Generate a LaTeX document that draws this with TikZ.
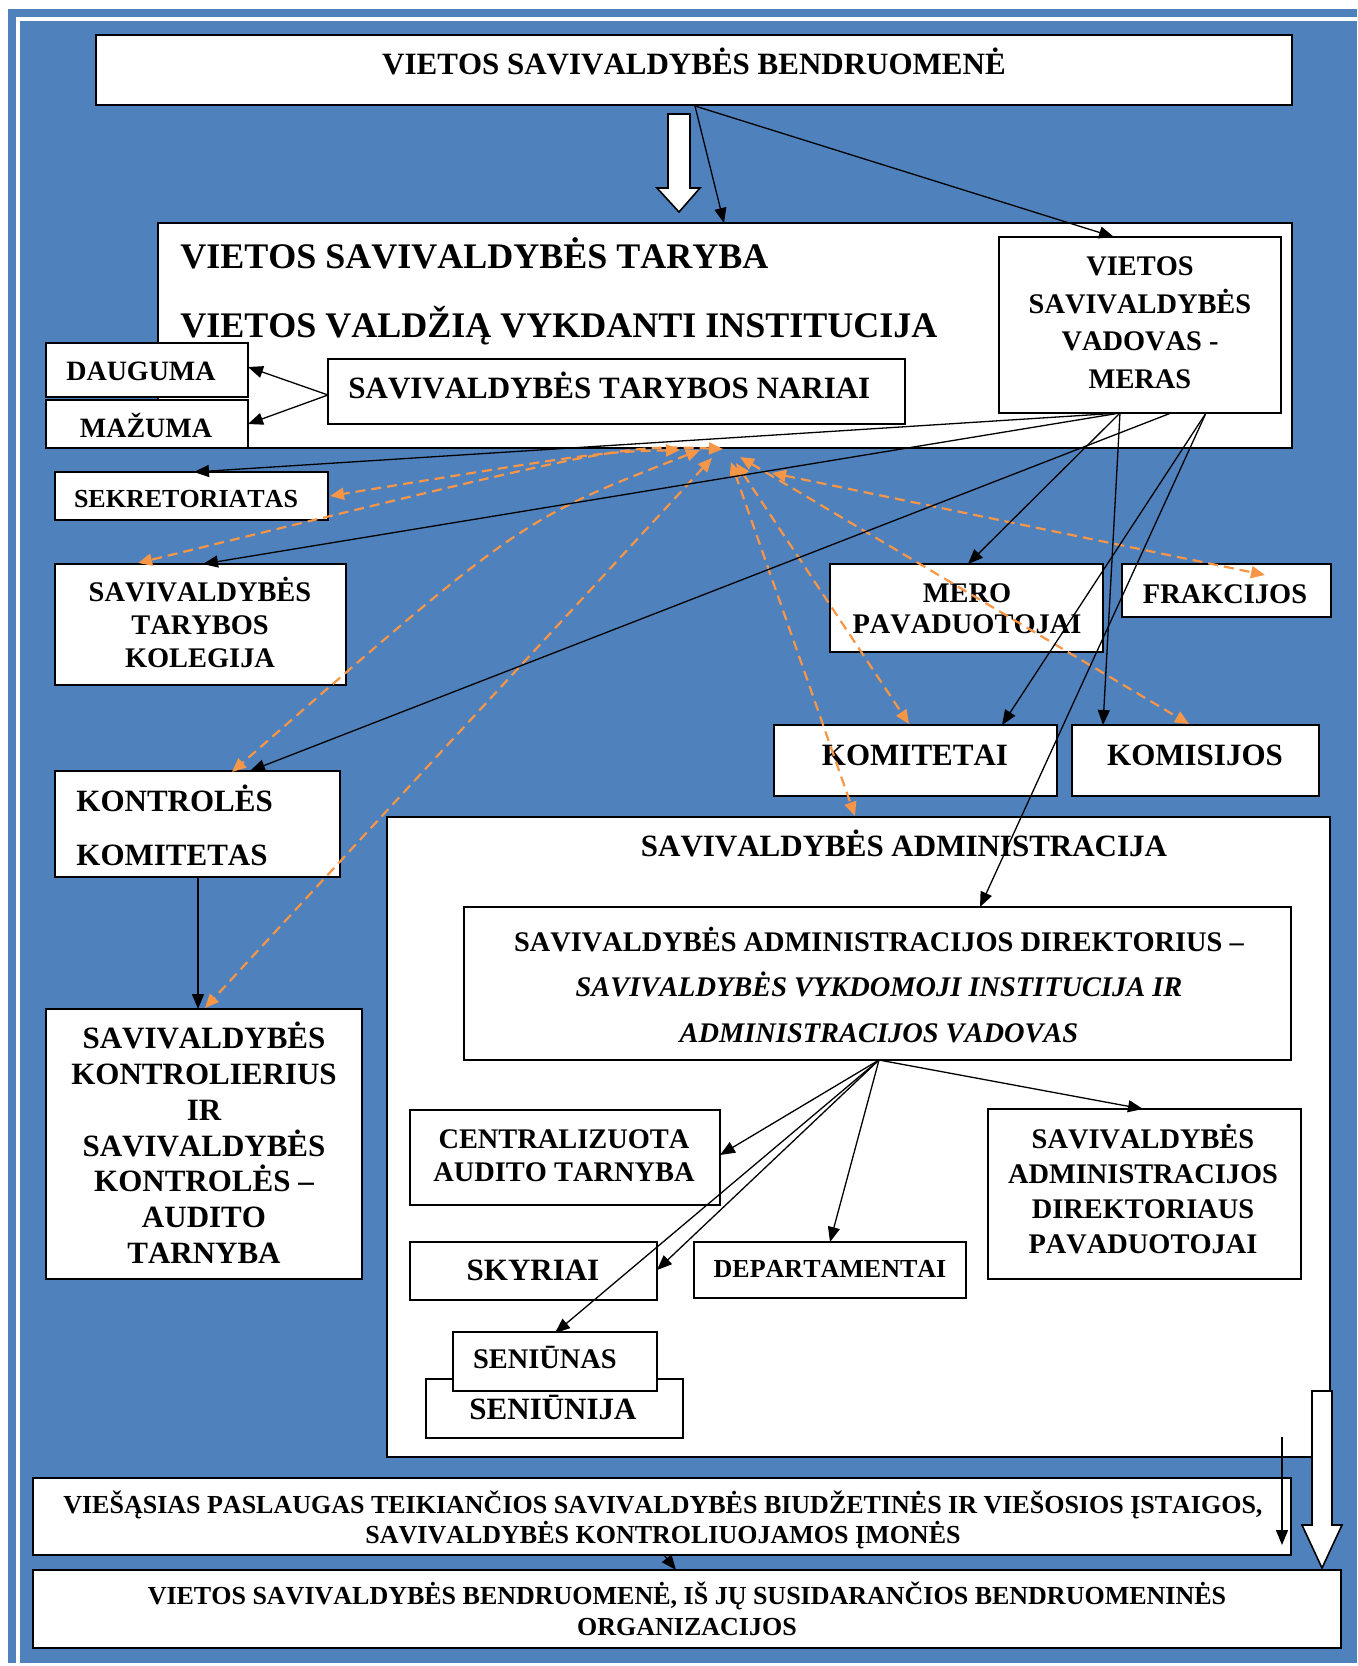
\documentclass[tikz,border=0pt]{standalone}
\usepackage{fontspec}
\setmainfont[Kerning=Off]{Liberation Serif}
\usetikzlibrary{arrows.meta,fit}
\definecolor{bgblue}{HTML}{4F81BD}
\definecolor{orng}{HTML}{F79646}
\tikzset{
  boxst/.style={draw=black, line width=0.9pt, fill=white, inner sep=0pt},
  tL/.style={font=\bfseries\fontsize{18pt}{21pt}\selectfont, inner sep=0pt, anchor=base west},
  tM/.style={font=\bfseries\fontsize{15.5pt}{18pt}\selectfont, inner sep=0pt, anchor=base},
  tS/.style={font=\bfseries\fontsize{14.2pt}{17pt}\selectfont, inner sep=0pt, anchor=base},
  tX/.style={font=\bfseries\fontsize{13pt}{15pt}\selectfont, inner sep=0pt, anchor=base},
  conn/.style={line width=0.65pt, -{Triangle[length=7.5pt,width=6pt]}},
  oconn/.style={draw=orng, line width=1.1pt, dash pattern=on 5pt off 3pt, {Triangle[length=7pt,width=6pt]}-{Triangle[length=7pt,width=6pt]}},
  blockarrow/.style={draw=black, line width=0.8pt, fill=white, line join=miter},
}
\begin{document}
\begin{tikzpicture}[x=0.5pt,y=-0.5pt]
\useasboundingbox (0,0) rectangle (1357,1666);
\fill[white] (0,0) rectangle (1357,1666);
\fill[bgblue] (8,9) rectangle (1357,1663);
\draw[white, line width=2pt] (17.8,1663) -- (17.8,19) -- (1357,19);

% ---------- boxes ----------
\node[boxst, fit={(96,35) (1292,105)}] (top) {};
\node[boxst, fit={(158,223) (1292,448)}] (taryba) {};
\node[boxst, fit={(999,237) (1281,413)}] (meras) {};
\node[boxst, fit={(328,359) (905,424)}] (nariai) {};
\node[boxst, fit={(46,343) (248,397)}] (dauguma) {};
\node[boxst, fit={(46,400) (248,448)}] (mazuma) {};
\node[boxst, fit={(55,472) (328,520)}] (sekr) {};
\node[boxst, fit={(55,564) (346,685)}] (kolegija) {};
\node[boxst, fit={(55,771) (340,877)}] (kkom) {};
\node[boxst, fit={(46,1009) (362,1279)}] (kontr) {};
\node[boxst, fit={(830,564) (1103,652)}] (merop) {};
\node[boxst, fit={(1122,564) (1331,617)}] (frakc) {};
\node[boxst, fit={(774,725) (1057,796)}] (komitetai) {};
\node[boxst, fit={(1072,725) (1319,796)}] (komisijos) {};
\node[boxst, fit={(387,817) (1330,1457)}] (admin) {};
\node[boxst, fit={(464,907) (1291,1060)}] (direkt) {};
\node[boxst, fit={(410,1110) (720,1205)}] (central) {};
\node[boxst, fit={(410,1242) (657,1300)}] (skyriai) {};
\node[boxst, fit={(426,1379) (683,1438)}] (seniunija) {};
\node[boxst, fit={(453,1332) (657,1391)}] (seniunas) {};
\node[boxst, fit={(694,1242) (966,1298)}] (depart) {};
\node[boxst, fit={(988,1109) (1301,1279)}] (adpav) {};
\node[boxst, fit={(33,1478) (1291,1555)}] (viesos) {};
\node[boxst, fit={(33,1570) (1341,1648)}] (bendr) {};

% ---------- texts ----------
\node[tM] (t1) at (694,74) {VIETOS SAVIVALDYBĖS BENDRUOMENĖ};
\node[tL] (t2) at (180,268) {VIETOS SAVIVALDYBĖS TARYBA};
\node[tL] (t3) at (180,337) {VIETOS VALDŽIĄ VYKDANTI INSTITUCIJA};
\node[tS] (t4) at (1140,275) {VIETOS};
\node[tS] (t5) at (1140,313) {SAVIVALDYBĖS};
\node[tS] (t6) at (1140,350) {VADOVAS -};
\node[tS] (t7) at (1140,388) {MERAS};
\node[tM, anchor=base west] (t8) at (348,398) {SAVIVALDYBĖS TARYBOS NARIAI};
\node[tS, font=\bfseries\fontsize{14pt}{17pt}\selectfont] (t9) at (141,380) {DAUGUMA};
\node[tS, font=\bfseries\fontsize{14pt}{17pt}\selectfont] (t10) at (146,437) {MAŽUMA};
\node[tX] (t11) at (186,507) {SEKRETORIATAS};
\node[tS] (t12) at (200,601) {SAVIVALDYBĖS};
\node[tS] (t13) at (200,634) {TARYBOS};
\node[tS] (t14) at (200,667) {KOLEGIJA};
\node[tM, anchor=base west] (t15) at (76,811) {KONTROLĖS};
\node[tM, anchor=base west] (t16) at (76,865) {KOMITETAS};
\node[tM] (t17) at (204,1048) {SAVIVALDYBĖS};
\node[tM] (t18) at (204,1084) {KONTROLIERIUS};
\node[tM] (t19) at (204,1120) {IR};
\node[tM] (t20) at (204,1156) {SAVIVALDYBĖS};
\node[tM] (t21) at (204,1191) {KONTROLĖS –};
\node[tM] (t22) at (204,1227) {AUDITO};
\node[tM] (t23) at (204,1263) {TARNYBA};
\node[tS] (t24) at (967,602) {MERO};
\node[tS] (t25) at (967,633) {PAVADUOTOJAI};
\node[tS] (t26) at (1225,603) {FRAKCIJOS};
\node[tM] (t27) at (915,765) {KOMITETAI};
\node[tM] (t28) at (1195,765) {KOMISIJOS};
\node[tM] (t29) at (904,856) {SAVIVALDYBĖS ADMINISTRACIJA};
\node[tS] (t30) at (879,951) {SAVIVALDYBĖS ADMINISTRACIJOS DIREKTORIUS –};
\node[tS] (t31) at (879,996) {\itshape SAVIVALDYBĖS VYKDOMOJI INSTITUCIJA IR};
\node[tS] (t32) at (879,1042) {\itshape ADMINISTRACIJOS VADOVAS};
\node[tS] (t33) at (564,1148) {CENTRALIZUOTA};
\node[tS] (t34) at (564,1181) {AUDITO TARNYBA};
\node[tM] (t35) at (533,1280) {SKYRIAI};
\node[tS] (t36) at (545,1368) {SENIŪNAS};
\node[tM] (t37) at (553,1419) {SENIŪNIJA};
\node[tX] (t38) at (830,1277) {DEPARTAMENTAI};
\node[tS] (t39) at (1143,1148) {SAVIVALDYBĖS};
\node[tS] (t40) at (1143,1183) {ADMINISTRACIJOS};
\node[tS] (t41) at (1143,1218) {DIREKTORIAUS};
\node[tS] (t42) at (1143,1253) {PAVADUOTOJAI};
\node[tX] (t43) at (663,1513) {VIEŠĄSIAS PASLAUGAS TEIKIANČIOS SAVIVALDYBĖS BIUDŽETINĖS IR VIEŠOSIOS ĮSTAIGOS,};
\node[tX] (t44) at (663,1543) {SAVIVALDYBĖS KONTROLIUOJAMOS ĮMONĖS};
\node[tX] (t45) at (687,1604) {VIETOS SAVIVALDYBĖS BENDRUOMENĖ, IŠ JŲ SUSIDARANČIOS BENDRUOMENINĖS};
\node[tX] (t46) at (687,1635) {ORGANIZACIJOS};

% ---------- connector end points ----------
\coordinate (topS) at (695,106);
\coordinate (tarN) at (724,223);
\coordinate (merN) at (1114,237);
\coordinate (m1) at (1120,413);
\coordinate (m2) at (1171,413);
\coordinate (m3) at (1206,413);
\coordinate (sekN) at (194,472);
\coordinate (kolN) at (203,564);
\coordinate (kkN) at (250,771);
\coordinate (meropN) at (968,564);
\coordinate (komisN) at (1103,725);
\coordinate (komitN) at (1002,725);
\coordinate (dirN) at (980,907);
\coordinate (narW) at (328,395);
\coordinate (daugE) at (248,367);
\coordinate (mazE) at (248,424);
\coordinate (kkS) at (198,877);
\coordinate (kontrN) at (198,1009);
\coordinate (dirS) at (879,1060);
\coordinate (centE) at (720,1155);
\coordinate (skyE) at (657,1270);
\coordinate (senN) at (555,1333);
\coordinate (depN) at (830,1242);
\coordinate (adpN) at (1143,1109);
\coordinate (thinA) at (1282,1437);
\coordinate (thinB) at (1282,1545);
\coordinate (viesS) at (664,1555);
\coordinate (bendN) at (676,1570);
% orange
\coordinate (oSek) at (680,450);
\coordinate (oKol) at (723,449);
\coordinate (oKk) at (700,450);
\coordinate (oKon) at (712,458);
\coordinate (oAdm) at (731,462);
\coordinate (oKomit) at (736,463);
\coordinate (oKomis) at (740,457);
\coordinate (oFrak) at (772,473);
\coordinate (eSek) at (330,496);
\coordinate (eKol) at (138,563);
\coordinate (eKk) at (232,772);
\coordinate (eKon) at (205,1008);
\coordinate (eAdm) at (855,816);
\coordinate (eKomit) at (909,724);
\coordinate (eKomis) at (1189,724);
\coordinate (eFrak) at (1265,575);

% ---------- block arrows ----------
\draw[blockarrow] (668,114) -- (690,114) -- (690,188) -- (700,188) -- (679,212) -- (657,188) -- (668,188) -- cycle;
\draw[blockarrow] (1312,1391) -- (1332,1391) -- (1332,1525) -- (1342,1525) -- (1322,1568) -- (1302,1525) -- (1312,1525) -- cycle;

% ---------- orange dashed connectors ----------
\draw[oconn] (oSek) .. controls (600,452) .. (eSek);
\draw[oconn] (oKol) .. controls (620,445) .. (eKol);
\draw[oconn] (oKk) .. controls (520,520) .. (eKk);
\draw[oconn] (oKon) -- (eKon);
\draw[oconn] (oAdm) -- (eAdm);
\draw[oconn] (oKomit) -- (eKomit);
\draw[oconn] (oKomis) -- (eKomis);
\draw[oconn] (oFrak) -- (eFrak);

% ---------- black connectors ----------
\draw[conn] (topS) -- (tarN);
\draw[conn] (topS) -- (merN);
\draw[conn] (narW) -- (daugE);
\draw[conn] (narW) -- (mazE);
\draw[conn] (m1) -- (sekN);
\draw[conn] (m1) -- (kolN);
\draw[conn] (m2) -- (kkN);
\draw[conn] (m1) -- (meropN);
\draw[conn] (m1) -- (komisN);
\draw[conn] (m3) -- (komitN);
\draw[conn] (m3) -- (dirN);
\draw[conn] (kkS) -- (kontrN);
\draw[conn] (dirS) -- (centE);
\draw[conn] (dirS) -- (skyE);
\draw[conn] (dirS) -- (senN);
\draw[conn] (dirS) -- (depN);
\draw[conn] (dirS) -- (adpN);
\draw[conn] (thinA) -- (thinB);
\draw[conn] (viesS) -- (bendN);
\end{tikzpicture}
\end{document}
